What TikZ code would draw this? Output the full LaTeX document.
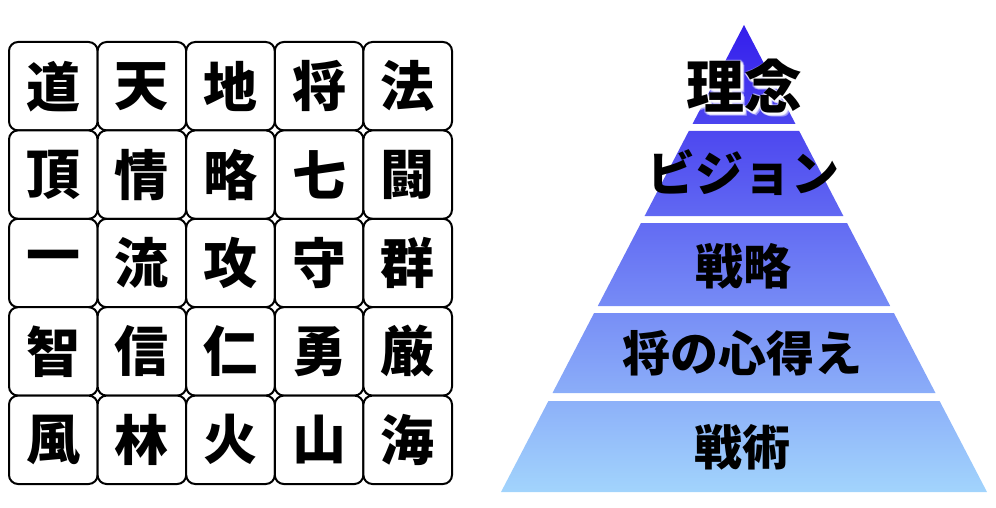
\documentclass[tikz,border=0pt]{standalone}
\usepackage{fontspec}
\newfontfamily\jpfont{Noto Sans CJK JP}
\begin{document}
\begin{tikzpicture}[x=1pt,y=-1pt,
  cell/.style={draw=black, line width=2pt, rounded corners=9pt, fill=white,
    minimum width=88.6pt, minimum height=88.4pt, inner sep=0pt,
    font=\jpfont\bfseries\fontsize{54}{54}\selectfont},
  tierlabel/.style={inner sep=0pt, font=\jpfont\bfseries\fontsize{48}{48}\selectfont},
  glow/.style={inner sep=0pt, text=white, opacity=0.45, font=\jpfont\bfseries\fontsize{58}{58}\selectfont}
]
\useasboundingbox (0,0) rectangle (996,508);
% grid
\foreach \row/\chars in {0/{道,天,地,将,法},1/{頂,情,略,七,闘},2/{一,流,攻,守,群},3/{智,信,仁,勇,厳},4/{風,林,火,山,海}}{
  \foreach \ch [count=\col from 0] in \chars {
    \node[cell] (c\row\col) at ({53.3+88.6*\col},{86.2+88.4*\row}) {\ch};
  }
}
% pyramid coordinates
\coordinate (apex) at (744,25);
\coordinate (t1l) at (692.5,124); \coordinate (t1r) at (795.5,124);
\coordinate (t2tl) at (688.8,131); \coordinate (t2tr) at (799.2,131);
\coordinate (t2bl) at (644.6,216); \coordinate (t2br) at (843.4,216);
\coordinate (t3tl) at (641.0,223); \coordinate (t3tr) at (847.0,223);
\coordinate (t3bl) at (597.8,306); \coordinate (t3br) at (890.2,306);
\coordinate (t4tl) at (594.1,313); \coordinate (t4tr) at (893.9,313);
\coordinate (t4bl) at (552.5,393); \coordinate (t4br) at (935.5,393);
\coordinate (t5tl) at (548.4,401); \coordinate (t5tr) at (939.6,401);
\coordinate (t5bl) at (501,492); \coordinate (t5br) at (987,492);
\definecolor{ptop}{RGB}{52,30,236}
\definecolor{pmid}{RGB}{98,112,242}
\definecolor{pbot}{RGB}{162,212,252}
\begin{scope}
\clip (apex) -- (t1r) -- (t1l) -- cycle
      (t2tl) -- (t2tr) -- (t2br) -- (t2bl) -- cycle
      (t3tl) -- (t3tr) -- (t3br) -- (t3bl) -- cycle
      (t4tl) -- (t4tr) -- (t4br) -- (t4bl) -- cycle
      (t5tl) -- (t5tr) -- (t5br) -- (t5bl) -- cycle;
\shade[top color=ptop, middle color=pmid, bottom color=pbot] (495,25) rectangle (992,492);
\end{scope}
% white glow behind the top label
\foreach \dx/\dy in {1/1,2/2,3/3,2/3,3/2,1/3,3/1,0/2,2/0,-1/1,1/-1,4/4}{
  \node[glow] at ({744+\dx},{86+\dy}) {理念};
}
\node[tierlabel, font=\jpfont\bfseries\fontsize{58}{58}\selectfont] (l1) at (744,86) {理念};
\node[tierlabel] (l2) at (743,173) {ビジョン};
\node[tierlabel] (l3) at (743,266) {戦略};
\node[tierlabel] (l4) at (742,353) {将の心得え};
\node[tierlabel] (l5) at (742,447) {戦術};
\end{tikzpicture}
\end{document}
